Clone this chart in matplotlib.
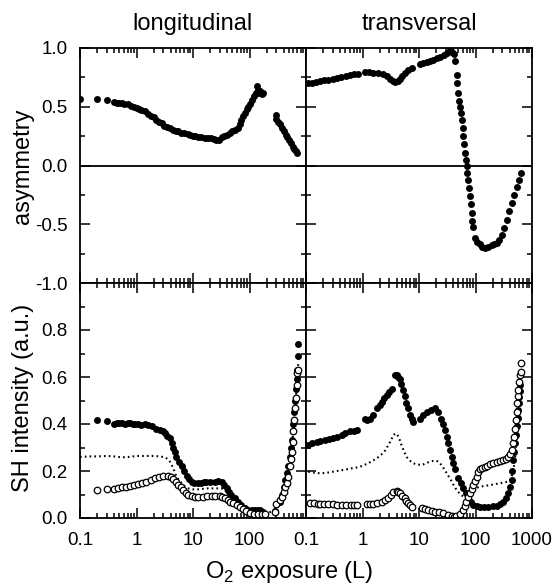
import numpy as np
import matplotlib
matplotlib.use("Agg")
import matplotlib.pyplot as plt
from matplotlib.ticker import LogLocator, MultipleLocator, NullFormatter

plt.rcParams['font.family'] = ['Liberation Sans', 'DejaVu Sans']
plt.rcParams['mathtext.fontset'] = 'custom'
plt.rcParams['mathtext.rm'] = 'Liberation Sans'

# asymmetry, longitudinal
asym_lon_x = [0.1, 0.2, 0.3, 0.4, 0.45, 0.5, 0.55, 0.6, 0.7, 0.8, 0.9, 1.0, 1.1, 1.2, 1.4, 1.6,
              1.8, 2.0, 2.2, 2.5, 2.8, 3.1, 3.5, 3.9, 4.4, 5.0, 5.5, 6.2, 7.0, 8.0, 9.0, 10,
              11, 12.4, 14, 16, 18.6, 21, 24, 26, 29, 32, 36, 40, 45, 50, 56, 63, 68, 72,
              78, 84, 89, 95, 100, 110, 120, 128, 134, 140, 147, 154, 165, 175,
              290, 300, 320, 350, 380, 410, 440, 470, 500, 540, 580, 620, 660, 700]
asym_lon_y = [0.57, 0.57, 0.56, 0.54, 0.535, 0.53, 0.53, 0.525, 0.52, 0.51, 0.50, 0.49, 0.485,
              0.47, 0.46, 0.44, 0.42, 0.41, 0.39, 0.37, 0.36, 0.34, 0.33, 0.32, 0.305, 0.295,
              0.29, 0.28, 0.275, 0.27, 0.26, 0.255, 0.25, 0.245, 0.24, 0.235, 0.235, 0.23,
              0.225, 0.215, 0.22, 0.24, 0.25, 0.26, 0.28, 0.29, 0.30, 0.32, 0.35, 0.39, 0.42,
              0.45, 0.48, 0.50, 0.52, 0.56, 0.59, 0.62, 0.675, 0.64, 0.62, 0.63, 0.61, 0.62,
              0.43, 0.40, 0.37, 0.35, 0.32, 0.29, 0.26, 0.24, 0.22, 0.19, 0.16, 0.14, 0.12, 0.11]

# asymmetry, transversal
asym_tra_x = [0.11, 0.13, 0.15, 0.18, 0.21, 0.25, 0.30, 0.35, 0.42, 0.52, 0.6, 0.7, 0.84,
              1.1, 1.3, 1.55, 1.9, 2.3, 2.7, 3.1, 3.5, 3.8, 4.2, 4.6, 5.1, 5.6, 6.4, 7.4,
              10.4, 12, 14, 15.6, 18, 21, 24, 28, 31, 35, 38, 41, 43,
              46.5, 48, 50, 52, 53, 55, 57, 59, 61, 63, 65, 67, 70, 72, 74, 77, 80, 83, 85,
              88, 92, 98, 108, 120, 133, 147, 165, 193, 215, 238, 265, 290, 320, 355, 395,
              435, 485, 535, 580, 630]
asym_tra_y = [0.70, 0.705, 0.71, 0.72, 0.725, 0.73, 0.74, 0.745, 0.75, 0.76, 0.77, 0.775, 0.78,
              0.80, 0.795, 0.79, 0.785, 0.775, 0.76, 0.74, 0.72, 0.71, 0.72, 0.74, 0.765, 0.79,
              0.81, 0.83, 0.86, 0.87, 0.88, 0.89, 0.90, 0.915, 0.925, 0.94, 0.96, 1.0, 0.97,
              0.945, 0.89, 0.77, 0.70, 0.62, 0.55, 0.50, 0.45, 0.39, 0.32, 0.25, 0.18, 0.11,
              0.05, 0.0, -0.06, -0.12, -0.19, -0.26, -0.33, -0.40, -0.47, -0.52, -0.615, -0.65,
              -0.67, -0.69, -0.70, -0.695, -0.68, -0.67, -0.66, -0.63, -0.59, -0.53, -0.46,
              -0.39, -0.32, -0.25, -0.18, -0.12, -0.06]

# SH intensity, longitudinal
sh_lon_fill_x = [0.2, 0.3, 0.4, 0.45, 0.5, 0.55, 0.62, 0.7, 0.77, 0.85, 0.95, 1.07, 1.2, 1.41,
                 1.6, 1.86, 2.2, 2.6, 2.9, 3.2, 3.5, 3.9, 4.2, 4.5, 4.8, 5.1, 5.6, 6.3, 7.0,
                 7.7, 8.5, 9.5, 10.5, 12.4, 14, 15.5, 17.3, 20, 24.5, 28, 32, 36, 40, 44, 48,
                 55, 63, 72, 83, 95, 109, 125, 140, 154, 175,
                 280, 300, 346, 370, 400, 430, 458, 490, 520, 540, 560, 580, 595, 620, 640,
                 660, 685, 705, 720, 725]
sh_lon_fill_y = [0.417, 0.414, 0.40, 0.405, 0.405, 0.405, 0.40, 0.405, 0.405, 0.40, 0.40, 0.40,
                 0.395, 0.40, 0.395, 0.39, 0.38, 0.375, 0.37, 0.36, 0.35, 0.34, 0.32, 0.30,
                 0.28, 0.26, 0.24, 0.22, 0.20, 0.18, 0.165, 0.155, 0.15, 0.147, 0.15, 0.152,
                 0.155, 0.155, 0.155, 0.157, 0.155, 0.14, 0.126, 0.11, 0.098, 0.085, 0.07,
                 0.055, 0.041, 0.035, 0.034, 0.035, 0.034, 0.034, 0.027,
                 0.03, 0.06, 0.07, 0.10, 0.13, 0.16, 0.19, 0.22, 0.26, 0.30, 0.33, 0.37, 0.40,
                 0.45, 0.50, 0.55, 0.59, 0.63, 0.69, 0.74]
sh_lon_open_x = [0.2, 0.3, 0.4, 0.47, 0.55, 0.65, 0.77, 0.9, 1.07, 1.25, 1.5, 1.8, 2.1, 2.5,
                 3.0, 3.6, 4.0, 4.5, 5.0, 5.5, 6.1, 6.7, 7.5, 8.3, 9.5, 10.8, 12.5, 15.2, 18,
                 21.4, 25, 30, 33, 37, 41, 45, 52, 59, 67, 77, 88, 102, 120, 144, 165, 187,
                 280, 300, 340, 370, 400, 424, 455, 487, 520, 540, 560, 580, 590, 610, 630,
                 660, 685, 705, 715]
sh_lon_open_y = [0.12, 0.122, 0.125, 0.127, 0.13, 0.132, 0.136, 0.14, 0.145, 0.15, 0.155, 0.162,
                 0.17, 0.175, 0.18, 0.18, 0.175, 0.165, 0.152, 0.14, 0.13, 0.12, 0.108, 0.098,
                 0.092, 0.09, 0.09, 0.09, 0.092, 0.094, 0.095, 0.094, 0.09, 0.084, 0.077, 0.07,
                 0.062, 0.055, 0.046, 0.037, 0.028, 0.02, 0.018, 0.017, 0.017, 0.017,
                 0.027, 0.06, 0.075, 0.09, 0.11, 0.13, 0.15, 0.176, 0.22, 0.25, 0.28, 0.325,
                 0.37, 0.417, 0.467, 0.51, 0.566, 0.615, 0.63]
sh_lon_dot_x = [0.1, 0.15, 0.2, 0.3, 0.4, 0.55, 0.75, 1.0, 1.4, 2.0, 2.6, 3.2, 3.6, 3.9, 4.2,
                4.5, 5.1, 5.7, 6.3, 7.2, 8.3, 10, 12.4, 15, 18.6, 25, 32, 36, 40, 45, 51, 60,
                72, 83, 95, 115, 134, 160, 190, 230, 280, 320, 360, 400, 440, 480, 520, 560,
                600, 640, 680, 710, 730]
sh_lon_dot_y = [0.26, 0.262, 0.262, 0.264, 0.262, 0.258, 0.26, 0.264, 0.264, 0.264, 0.262,
                0.258, 0.25, 0.24, 0.225, 0.21, 0.176, 0.16, 0.148, 0.135, 0.126, 0.122,
                0.122, 0.124, 0.126, 0.126, 0.126, 0.118, 0.108, 0.094, 0.08, 0.064, 0.048,
                0.036, 0.027, 0.022, 0.02, 0.018, 0.017, 0.025, 0.035, 0.05, 0.075, 0.11,
                0.15, 0.19, 0.24, 0.30, 0.38, 0.46, 0.55, 0.62, 0.66]

# SH intensity, transversal
sh_tra_fill_x = [0.11, 0.13, 0.155, 0.18, 0.22, 0.26, 0.30, 0.36, 0.43, 0.5, 0.6, 0.7, 0.79,
                 1.1, 1.2, 1.35, 1.55, 1.78, 2.0, 2.18, 2.45, 2.7, 3.0, 3.3,
                 3.76, 4.0, 4.3, 4.6, 4.9, 5.2, 5.6, 6.0, 6.4, 6.9, 7.4, 7.9,
                 10.4, 12, 13.7, 16, 19.2, 22, 25, 27, 29, 31, 33, 35.5, 38, 40.5, 43.5,
                 50, 55, 61, 67, 74, 82, 91, 105, 120, 140, 168, 200, 237, 270, 310, 345, 380,
                 410, 436, 450, 467, 485, 500, 518, 535, 555, 572, 590, 600, 610, 615]
sh_tra_fill_y = [0.31, 0.32, 0.325, 0.328, 0.33, 0.335, 0.34, 0.345, 0.353, 0.36, 0.37, 0.372,
                 0.375, 0.42, 0.418, 0.42, 0.44, 0.467, 0.48, 0.495, 0.51, 0.523, 0.535, 0.55,
                 0.61, 0.607, 0.60, 0.59, 0.57, 0.545, 0.52, 0.49, 0.467, 0.44, 0.42, 0.41,
                 0.42, 0.44, 0.45, 0.46, 0.467, 0.45, 0.42, 0.40, 0.375, 0.345, 0.318, 0.29,
                 0.26, 0.235, 0.21, 0.17, 0.148, 0.126, 0.105, 0.084, 0.068, 0.055, 0.05,
                 0.048, 0.047, 0.048, 0.049, 0.051, 0.058, 0.07, 0.085, 0.105, 0.13, 0.16,
                 0.20, 0.247, 0.28, 0.318, 0.355, 0.39, 0.425, 0.46, 0.49, 0.516, 0.54, 0.566]
sh_tra_open_x = [0.118, 0.14, 0.16, 0.18, 0.21, 0.25, 0.30, 0.36, 0.43, 0.52, 0.62, 0.7, 0.79,
                 1.18, 1.35, 1.55, 1.8, 2.18, 2.5, 2.85, 3.2, 3.5, 4.0, 4.3, 4.6, 5.1, 5.6,
                 6.0, 6.4, 6.9, 7.4, 11.2, 12.8, 14.6, 16.8, 19.2, 23, 27, 32, 38, 42, 46,
                 53, 61, 65, 69, 74, 79, 85, 91, 98, 105, 112, 120, 133, 147, 163, 180, 205,
                 237, 270, 310, 345, 380, 410, 436, 462, 485, 505, 520, 535, 550, 562, 572,
                 590, 610, 630, 640]
sh_tra_open_y = [0.063, 0.062, 0.061, 0.06, 0.06, 0.059, 0.058, 0.057, 0.056, 0.055, 0.055,
                 0.055, 0.055, 0.06, 0.06, 0.06, 0.064, 0.07, 0.077, 0.084, 0.098, 0.112,
                 0.116, 0.112, 0.105, 0.094, 0.084, 0.074, 0.063, 0.054, 0.045, 0.041, 0.038,
                 0.034, 0.03, 0.027, 0.024, 0.02, 0.014, 0.008, 0.006, 0.008, 0.018, 0.034,
                 0.05, 0.07, 0.088, 0.105, 0.122, 0.14, 0.158, 0.176, 0.195, 0.21, 0.214,
                 0.216, 0.222, 0.23, 0.235, 0.24, 0.244, 0.247, 0.252, 0.258, 0.272, 0.29,
                 0.318, 0.346, 0.38, 0.417, 0.45, 0.488, 0.52, 0.545, 0.58, 0.61, 0.62, 0.66]
sh_tra_dot_x = [0.11, 0.14, 0.18, 0.24, 0.30, 0.4, 0.52, 0.66, 0.84, 1.0, 1.26, 1.5, 1.78,
                2.05, 2.35, 2.6, 2.85, 3.2, 3.5, 3.9, 4.1, 4.3, 4.6, 4.9, 5.4, 6.0, 6.8, 7.9,
                9.3, 11.2, 13, 15.6, 18, 20.4, 23, 25, 28, 31, 36, 41, 46, 52, 58, 65, 72,
                79, 88, 98, 110, 120, 150, 180, 220, 270, 320, 380, 410, 436, 465, 500, 520,
                535, 555, 572, 590, 610, 625, 640]
sh_tra_dot_y = [0.197, 0.193, 0.19, 0.193, 0.197, 0.202, 0.207, 0.212, 0.216, 0.222, 0.233,
                0.243, 0.254, 0.265, 0.278, 0.292, 0.31, 0.33, 0.353, 0.36, 0.355, 0.346,
                0.33, 0.31, 0.285, 0.26, 0.245, 0.233, 0.228, 0.225, 0.232, 0.24, 0.243,
                0.244, 0.236, 0.225, 0.208, 0.19, 0.165, 0.14, 0.12, 0.105, 0.095, 0.09,
                0.097, 0.105, 0.117, 0.126, 0.13, 0.133, 0.137, 0.14, 0.144, 0.148, 0.151,
                0.155, 0.163, 0.176, 0.2, 0.247, 0.3, 0.346, 0.39, 0.43, 0.475, 0.516, 0.55,
                0.58]

W, H = 554, 587
fig = plt.figure(figsize=(W / 100, H / 100), dpi=100)

x0, xm, x1 = 80 / W, 306 / W, 532 / W
yt, ym, yb = 1 - 48 / H, 1 - 283 / H, 1 - 518 / H
ax_tl = fig.add_axes([x0, ym, xm - x0, yt - ym])
ax_tr = fig.add_axes([xm, ym, x1 - xm, yt - ym])
ax_bl = fig.add_axes([x0, yb, xm - x0, ym - yb])
ax_br = fig.add_axes([xm, yb, x1 - xm, ym - yb])

ms = 5
ax_tl.plot(asym_lon_x, asym_lon_y, 'o', color='black', ms=ms, mew=0)
ax_tr.plot(asym_tra_x, asym_tra_y, 'o', color='black', ms=ms, mew=0)

for ax, fx, fy, ox, oy, dx, dy in [
        (ax_bl, sh_lon_fill_x, sh_lon_fill_y, sh_lon_open_x, sh_lon_open_y, sh_lon_dot_x, sh_lon_dot_y),
        (ax_br, sh_tra_fill_x, sh_tra_fill_y, sh_tra_open_x, sh_tra_open_y, sh_tra_dot_x, sh_tra_dot_y)]:
    ax.plot(dx, dy, color='black', lw=1.5, ls=(0, (0.8, 1.5)))
    ax.plot(fx, fy, 'o', color='black', ms=ms, mew=0)
    ax.plot(ox, oy, 'o', mfc='white', mec='black', ms=ms - 0.3, mew=0.9)

for ax in (ax_tl, ax_tr):
    ax.axhline(0, color='black', lw=1.3)
    ax.set_ylim(-1, 1)
    ax.yaxis.set_major_locator(MultipleLocator(0.5))
    ax.yaxis.set_minor_locator(MultipleLocator(0.25))
for ax in (ax_bl, ax_br):
    ax.set_ylim(0, 1)
    ax.yaxis.set_major_locator(MultipleLocator(0.2))
    ax.yaxis.set_minor_locator(MultipleLocator(0.1))

for ax in (ax_tl, ax_tr, ax_bl, ax_br):
    ax.set_xscale('log')
    ax.set_xlim(0.1, 1000)
    ax.xaxis.set_major_locator(LogLocator(base=10, numticks=10))
    ax.xaxis.set_minor_locator(LogLocator(base=10, subs=np.arange(2, 10), numticks=10))
    ax.xaxis.set_minor_formatter(NullFormatter())
    ax.tick_params(which='both', direction='in', top=True, right=True, width=1.1,
                   labelsize=13.5)
    ax.tick_params(axis='x', pad=10)
    ax.tick_params(axis='y', pad=9)
    ax.tick_params(which='major', length=7)
    ax.tick_params(which='minor', length=3.5)
    for sp in ax.spines.values():
        sp.set_linewidth(1.3)

for ax in (ax_tl, ax_tr):
    ax.tick_params(labelbottom=False)
for ax in (ax_tr, ax_br):
    ax.tick_params(labelleft=False)

ax_tl.set_yticks([-1, -0.5, 0, 0.5, 1])
ax_tl.set_yticklabels(['-1.0', '-0.5', '0.0', '0.5', '1.0'])
ax_bl.set_yticks([0, 0.2, 0.4, 0.6, 0.8])
ax_bl.set_yticklabels(['0.0', '0.2', '0.4', '0.6', '0.8'])
ax_br.set_yticks([0, 0.2, 0.4, 0.6, 0.8, 1.0])

ax_bl.set_xticks([0.1, 1, 10, 100, 1000])
ax_bl.set_xticklabels(['0.1', '1', '10', '100', ''])
ax_br.set_xticks([0.1, 1, 10, 100, 1000])
ax_br.set_xticklabels(['0.1', '1', '10', '100', '1000'])

ax_tl.set_title('longitudinal', fontsize=17, pad=13)
ax_tr.set_title('transversal', fontsize=17, pad=13)

fig.text(23 / W, 1 - 166 / H, 'asymmetry', rotation=90, ha='center', va='center', fontsize=17)
fig.text(23 / W, 1 - 398 / H, 'SH intensity (a.u.)', rotation=90, ha='center', va='center',
         fontsize=17)
fig.text(289 / W, 1 - 572 / H, r'O$_\mathregular{2}$ exposure (L)', ha='center', va='center',
         fontsize=17)

fig.savefig('out.png', dpi=100)
